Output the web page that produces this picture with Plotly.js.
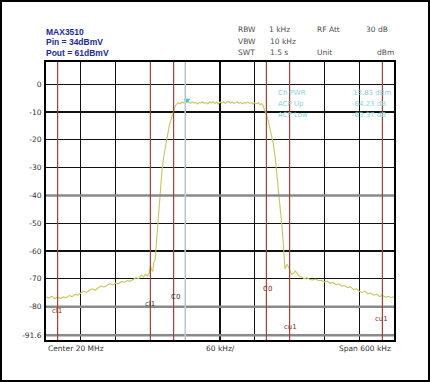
<!DOCTYPE html>
<html><head><meta charset="utf-8">
<script src="https://cdn.plot.ly/plotly-3.0.1.min.js"></script>
<style>html,body{margin:0;padding:0;background:#fff}#chart{width:430px;height:382px}</style>
</head><body><div id="chart"></div>
<script>
// Spectrum trace: offset from 20 MHz centre (kHz) and level (dBm)
const freqKHz = [-300,-295,-290,-285,-280,-275,-270,-265,-260,-255,-250,-245,-240,-235,-230,-225,-220,-215,-210,-205,-200,-195,-190,-185,-180,-175,-170,-165,-160,-155,-150,-145,-140,-136,-132,-128,-125,-122,-120,-118,-116,-114,-112,-110,-108,-106,-104,-102,-100,-97,-94,-91,-88,-85,-82,-79,-77,-75,-72,-69,-66,-63,-60,-57,-54,-51,-48,-45,-42,-39,-36,-33,-30,-27,-24,-21,-18,-15,-12,-9,-6,-3,0,3,6,9,12,15,18,21,24,27,30,33,36,39,42,45,48,51,54,57,60,63,66,69,72,74,76,78,80,83,86,89,92,95,98,101,104,107,109,111,112,114,116,118,120,122,124,127,130,133,136,140,145,150,155,160,165,170,175,180,185,190,195,200,205,210,215,220,225,230,235,240,245,250,255,260,265,270,275,280,285,290,295,300];
const levelDbm = [-76.4,-76.9,-76.2,-77.1,-76.6,-77.0,-76.5,-76.8,-76.0,-76.4,-75.6,-75.9,-75.1,-74.5,-74.9,-74.0,-73.6,-74.1,-73.2,-72.6,-73.0,-72.3,-71.8,-72.2,-71.5,-71.7,-71.0,-71.2,-70.6,-70.9,-70.1,-69.6,-69.9,-68.6,-69.3,-68.4,-69.0,-67.8,-65.2,-66.8,-67.3,-64.0,-63.5,-58,-51,-46,-40,-35,-31,-26,-22,-18.5,-15.5,-13,-10.8,-8.8,-7.8,-7.2,-6.6,-7.0,-6.4,-6.7,-6.1,-5.8,-6.5,-6.9,-6.3,-6.8,-6.6,-7.1,-6.5,-6.8,-6.3,-6.9,-6.6,-7.0,-6.4,-6.7,-6.2,-6.9,-6.5,-7.1,-6.4,-6.8,-6.3,-6.9,-6.5,-6.2,-6.8,-6.4,-6.9,-6.6,-6.3,-6.9,-6.5,-7.0,-6.6,-6.8,-6.4,-6.9,-6.6,-7.1,-6.7,-7.0,-6.6,-7.3,-7.0,-7.6,-8.6,-9.8,-11,-13,-15.5,-18,-21.5,-26,-32,-39,-46,-51.5,-57,-63,-66.5,-65.5,-64.8,-65.6,-66.9,-67.7,-68.4,-67.9,-67.2,-68.0,-68.9,-69.3,-69.9,-69.6,-70.2,-70.4,-70.1,-70.7,-70.5,-71.1,-70.8,-71.6,-71.3,-72.1,-71.8,-72.6,-72.4,-73.2,-72.8,-73.9,-73.5,-74.5,-74.9,-74.4,-75.4,-75.1,-75.9,-75.5,-76.4,-75.9,-76.6,-76.3,-76.7,-76.5];
// Marker 1
const markerKHz = [-57];
const markerDbm = [-5.8];
// Channel limits (kHz): lower adjacent, main, upper adjacent
const chanNames = ['cl1','C0','cu1'];
const chanLo = [-280,-80,120];
const chanHi = [-120,80,280];
// Axis ticks
const yTickVals = [0,-10,-20,-30,-40,-50,-60,-70,-80,-90.3];
const yTickText = ['0','-10','-20','-30','-40','-50','-60','-70','-80','-91.6'];
const yRange = [-92,8];
const xRange = [-300,300];
const grayLevels = [-40,-80,-90.3];
const markerLineKHz = [-60];

const shapes = [];
grayLevels.forEach(v=>shapes.push({type:'line',xref:'paper',x0:0,x1:1,yref:'y',y0:v,y1:v,line:{color:'#8a8a8a',width:2.5},layer:'above'}));
markerLineKHz.forEach(v=>shapes.push({type:'line',xref:'x',x0:v,x1:v,yref:'paper',y0:0,y1:1,line:{color:'#c4ccd4',width:1.5},layer:'above'}));
chanLo.concat(chanHi).forEach(v=>shapes.push({type:'line',xref:'x',x0:v,x1:v,yref:'paper',y0:0,y1:1,line:{color:'#a84038',width:1.2},layer:'above'}));
shapes.push({type:'rect',xref:'paper',yref:'paper',x0:-0.1293,x1:1.1006,y0:-0.1475,y1:1.2194,line:{color:'#000',width:2},fillcolor:'rgba(0,0,0,0)'});

const ann = [];
const blue = '#1c2a9c';
const bfont = {family:'Liberation Sans, Arial, sans-serif',size:8.5,color:blue,weight:'bold'};
['MAX3510','Pin = 34dBmV','Pout = 61dBmV'].forEach((t,i)=>ann.push({xref:'paper',yref:'paper',x:0,y:(340-(32+i*10.3))/278,xshift:-2,text:'<b>'+t+'</b>',showarrow:false,xanchor:'left',yanchor:'middle',font:bfont}));
const gfont = {family:'DejaVu Sans, sans-serif',size:7.5,color:'#505050'};
function px(t,x,y,anchor,font){ann.push({xref:'paper',yref:'paper',x:(x-46)/348,y:(340-y)/278,text:t,showarrow:false,xanchor:anchor||'left',yanchor:'middle',font:font||gfont});}
px('RBW',236,29); px('1 kHz',267,29); px('RF Att',315,29); px('30 dB',390,29,'right');
px('VBW',236,41); px('10 kHz',268,41);
px('SWT',236,52); px('1.5 s',268,52); px('Unit',315,52); px('dBm',396,52,'right');
const bf = {family:'DejaVu Sans, sans-serif',size:7.5,color:'#333'};
px('Center 20 MHz',46,348,'left',bf); px('60 kHz/',220,348,'center',bf); px('Span 600 kHz',393,348,'right',bf);
const cf = {family:'DejaVu Sans, sans-serif',size:7,color:'#88d4dc'};
px('Ch PWR',276,93,'left',cf); px('13.83 dBm',394,93,'right',cf);
px('ACP Up',276,104,'left',cf); px('-64.23 dB',388,104,'right',cf);
px('ACP Low',276,115,'left',cf); px('-63.37 dB',388,115,'right',cf);
const rf = {family:'DejaVu Sans, sans-serif',size:7,color:'#8a2a20'};
const kf = {family:'DejaVu Sans, sans-serif',size:7,color:'#333'};
px(chanNames[0],50,311,'left',rf); px(chanNames[0],143,304,'left',kf);
px(chanNames[1],169,297,'left',kf); px(chanNames[1],261,289,'left',rf);
px(chanNames[2],282,327,'left',rf); px(chanNames[2],373,319,'left',rf);

const data = [
 {x:freqKHz,y:levelDbm,type:'scatter',mode:'lines',line:{color:'#c6c85a',width:1.1},hoverinfo:'skip'},
 {x:markerKHz,y:markerDbm,type:'scatter',mode:'markers',marker:{symbol:'triangle-down',size:6,color:'#40c8d0'},hoverinfo:'skip'}
];
const layout = {
 width:430,height:382,margin:{l:46,r:36,t:62,b:42},
 paper_bgcolor:'#fff',plot_bgcolor:'#fff',showlegend:false,
 xaxis:{range:xRange,tick0:-300,dtick:60,showticklabels:false,ticks:'',showgrid:true,gridcolor:'#111',gridwidth:1.3,zeroline:false,showline:true,mirror:true,linecolor:'#000',linewidth:2},
 yaxis:{range:yRange,tickvals:yTickVals,ticktext:yTickText,ticks:'',showgrid:true,gridcolor:'#111',gridwidth:1.3,zeroline:false,showline:true,mirror:true,linecolor:'#000',linewidth:2,tickfont:{family:'DejaVu Sans, sans-serif',size:7.5,color:'#333'},ticklabelstandoff:1},
 shapes:shapes,annotations:ann
};
Plotly.newPlot('chart',data,layout,{staticPlot:true,displayModeBar:false});
</script></body></html>
